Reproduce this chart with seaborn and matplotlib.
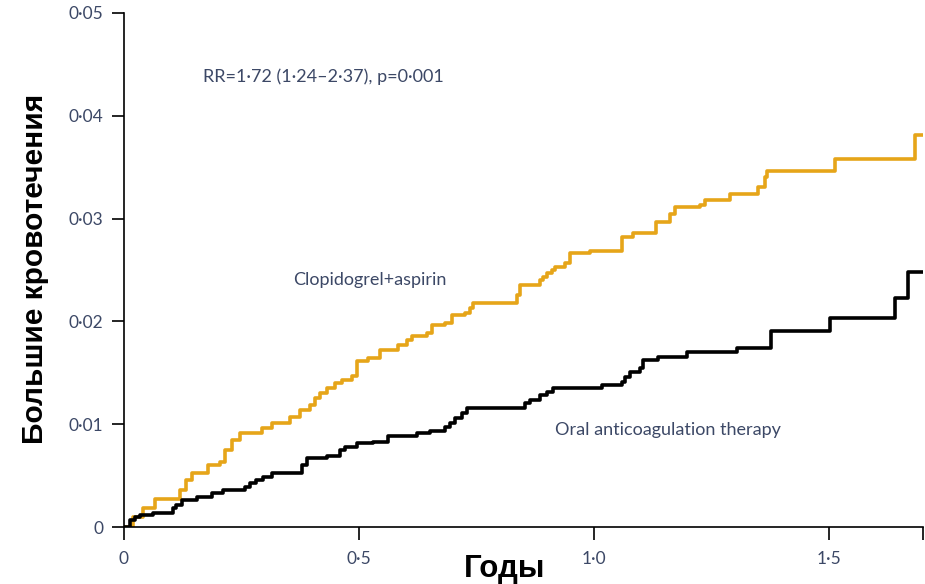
import matplotlib
matplotlib.use("Agg")
import matplotlib.pyplot as plt
import seaborn as sns
import pandas as pd

# Clopidogrel+aspirin (step points: years, cumulative incidence)
gold_t = [0.000, 0.019, 0.040, 0.066, 0.119, 0.132, 0.145, 0.179, 0.204, 0.215,
          0.230, 0.247, 0.294, 0.315, 0.353, 0.374, 0.396, 0.406, 0.417, 0.432,
          0.449, 0.464, 0.485, 0.496, 0.519, 0.545, 0.583, 0.602, 0.613, 0.645,
          0.655, 0.683, 0.698, 0.726, 0.736, 0.743, 0.836, 0.843, 0.885, 0.891,
          0.900, 0.911, 0.917, 0.938, 0.949, 0.991, 1.060, 1.083, 1.132, 1.162,
          1.172, 1.226, 1.236, 1.289, 1.349, 1.364, 1.368, 1.513, 1.683, 1.700]
gold_y = [0.0000, 0.0010, 0.0018, 0.0027, 0.0036, 0.0046, 0.0053, 0.0060, 0.0063, 0.0075,
          0.0085, 0.0091, 0.0096, 0.0101, 0.0107, 0.0114, 0.0119, 0.0125, 0.0130, 0.0135,
          0.0140, 0.0143, 0.0147, 0.0161, 0.0164, 0.0172, 0.0177, 0.0182, 0.0186, 0.0189,
          0.0196, 0.0198, 0.0206, 0.0208, 0.0213, 0.0218, 0.0226, 0.0235, 0.0240, 0.0243,
          0.0247, 0.0250, 0.0253, 0.0257, 0.0267, 0.0268, 0.0282, 0.0286, 0.0297, 0.0304,
          0.0311, 0.0313, 0.0318, 0.0324, 0.0331, 0.0340, 0.0346, 0.0358, 0.0381, 0.0381]

# Oral anticoagulation therapy
black_t = [0.000, 0.013, 0.023, 0.034, 0.062, 0.104, 0.111, 0.123, 0.155, 0.187,
           0.211, 0.257, 0.268, 0.281, 0.296, 0.315, 0.379, 0.389, 0.432, 0.460,
           0.470, 0.496, 0.530, 0.562, 0.623, 0.651, 0.683, 0.694, 0.704, 0.719,
           0.730, 0.853, 0.864, 0.885, 0.900, 0.913, 1.017, 1.060, 1.066, 1.077,
           1.098, 1.104, 1.136, 1.198, 1.304, 1.377, 1.502, 1.640, 1.668, 1.700]
black_y = [0.0000, 0.0007, 0.0010, 0.0012, 0.0014, 0.0018, 0.0021, 0.0026, 0.0029, 0.0033,
           0.0036, 0.0039, 0.0043, 0.0046, 0.0049, 0.0053, 0.0060, 0.0067, 0.0069, 0.0075,
           0.0078, 0.0082, 0.0083, 0.0089, 0.0091, 0.0093, 0.0097, 0.0101, 0.0106, 0.0111,
           0.0116, 0.0121, 0.0124, 0.0128, 0.0131, 0.0135, 0.0138, 0.0141, 0.0146, 0.0151,
           0.0155, 0.0162, 0.0165, 0.0170, 0.0174, 0.0191, 0.0203, 0.0223, 0.0248, 0.0248]

series_names = ["Clopidogrel+aspirin", "Oral anticoagulation therapy"]
x_ticks = [0, 0.5, 1.0, 1.5, 1.7]
x_tick_labels = ["0", "0·5", "1·0", "1·5", ""]
y_ticks = [0, 0.01, 0.02, 0.03, 0.04, 0.05]
y_tick_labels = ["0", "0·01", "0·02", "0·03", "0·04", "0·05"]
stat_text = "RR=1·72 (1·24–2·37), p=0·001"
x_label = "Годы"
y_label = "Большие кровотечения"

df = pd.concat([
    pd.DataFrame({"t": gold_t, "y": gold_y, "group": series_names[0]}),
    pd.DataFrame({"t": black_t, "y": black_y, "group": series_names[1]}),
])

sns.set_style("ticks")
plt.rcParams['font.family'] = ['Lato', 'DejaVu Sans']

fig = plt.figure(figsize=(9.25, 5.84), dpi=100)
ax = fig.add_axes([0.134, 0.0976, 0.864, 0.8802])

palette = {series_names[0]: "#E6A519", series_names[1]: "#000000"}
sns.lineplot(data=df, x="t", y="y", hue="group", palette=palette,
             drawstyle="steps-post", linewidth=2.6, legend=False, ax=ax,
             estimator=None, sort=False)

ax.set_xlim(0, 1.70)
ax.set_ylim(0, 0.05)
ax.set_xticks(x_ticks)
ax.set_xticklabels(x_tick_labels)
ax.set_yticks(y_ticks)
ax.set_yticklabels(y_tick_labels)

txt_color = "#3c4866"
ax.tick_params(axis="both", direction="out", length=9, width=1.2,
               colors="black", labelcolor=txt_color, labelsize=12.5)
ax.tick_params(axis="x", pad=8)
ax.tick_params(axis="y", pad=6)
for s in ["top", "right"]:
    ax.spines[s].set_visible(False)
for s in ["left", "bottom"]:
    ax.spines[s].set_linewidth(1.2)
    ax.spines[s].set_color("black")

ax.set_xlabel("")
ax.set_ylabel("")
fig.text(0.545, 0.026, x_label, ha="center", va="center", fontsize=22.5,
         fontweight="bold", family=["Liberation Sans", "DejaVu Sans"], color="black")
fig.text(0.038, 0.54, y_label, ha="center", va="center", rotation=90, fontsize=21.5,
         fontweight="bold", family=["Liberation Sans", "DejaVu Sans"], color="black")

ax.text(0.168, 0.0438, stat_text, ha="left", va="center", fontsize=13, color=txt_color)
ax.text(0.36, 0.0240, series_names[0], ha="left", va="center", fontsize=13, color=txt_color)
ax.text(0.917, 0.0094, series_names[1], ha="left", va="center", fontsize=13, color=txt_color)

fig.savefig("out.png", dpi=100)
